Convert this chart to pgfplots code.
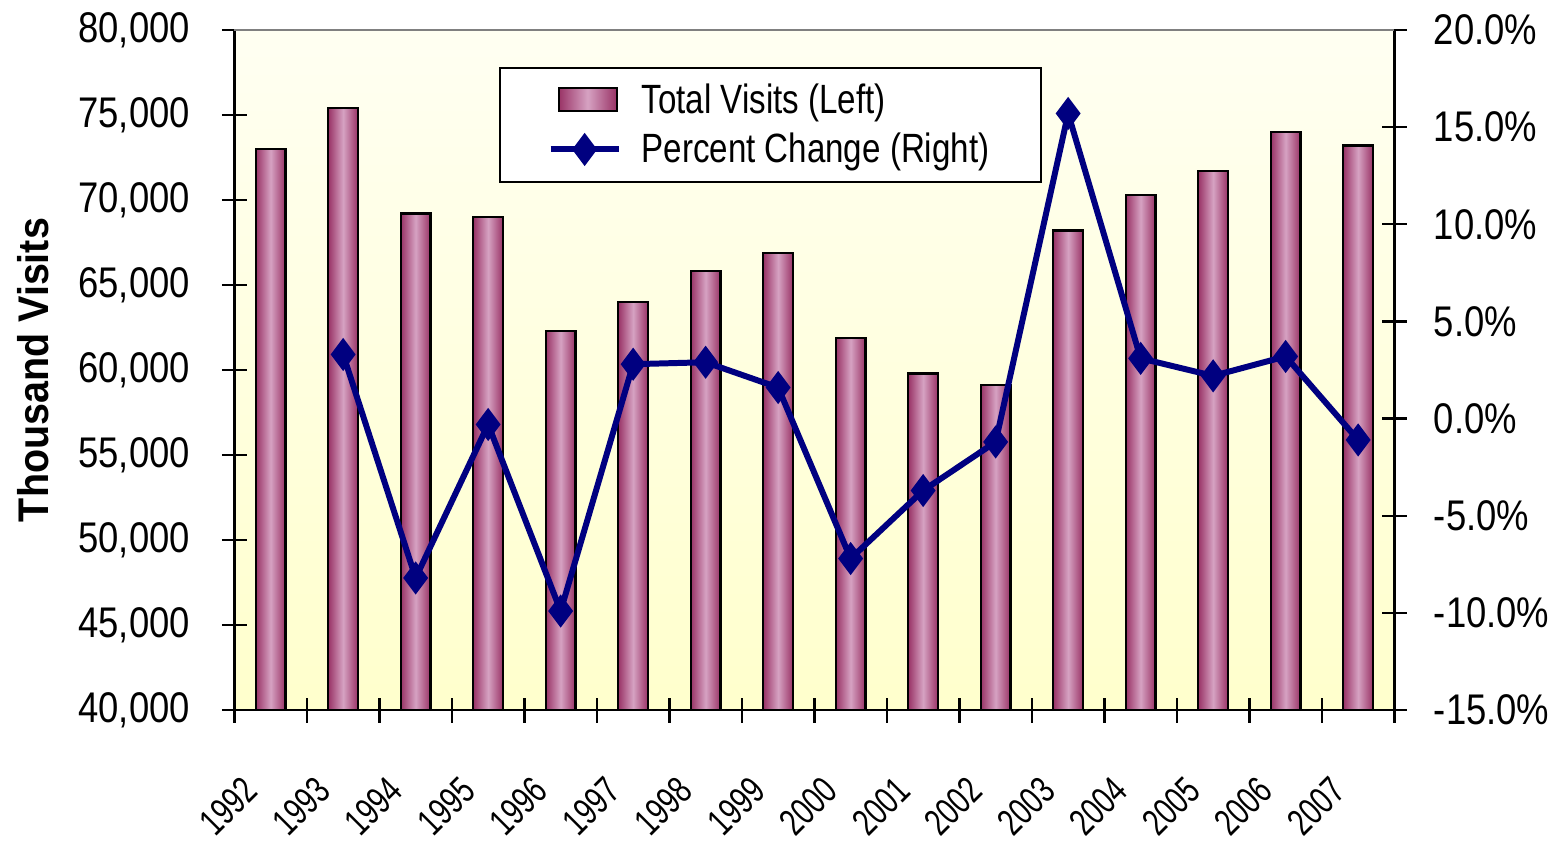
\documentclass[border=0pt]{standalone}
\usepackage{pgfplots}
\pgfplotsset{compat=1.18}
\usepackage{pgfplotstable}
\usepackage{fontspec}
\setmainfont[FakeStretch=0.85]{Liberation Sans}
\newfontfamily\legfamily[FakeStretch=0.81]{Liberation Sans}
\newfontfamily\labfamily[FakeStretch=0.92]{Liberation Sans}
\newfontfamily\xfamily[FakeStretch=0.74]{Liberation Sans}
\definecolor{barDark}{HTML}{993366}
\definecolor{barLight}{HTML}{D6A2C2}
\definecolor{bgTop}{HTML}{FFFFF2}
\definecolor{bgBot}{HTML}{FFFFCC}
\definecolor{lineBlue}{HTML}{000080}

\pgfplotstableread{
x visits
0 73000
1 75400
2 69200
3 69000
4 62300
5 64000
6 65800
7 66900
8 61900
9 59800
10 59100
11 68200
12 70300
13 71700
14 74000
15 73200
}\visits

\pgfplotstableread{
x pct
1 3.3
2 -8.2
3 -0.3
4 -9.9
5 2.8
6 2.9
7 1.6
8 -7.2
9 -3.7
10 -1.2
11 15.7
12 3.1
13 2.2
14 3.2
15 -1.1
}\pct

\newcommand{\tfont}{\fontsize{21.5}{26}\selectfont}
\newcommand{\xfont}{\xfamily\fontsize{19}{23}\selectfont}
\newcommand{\lfont}{\legfamily\fontsize{20.5}{25}\selectfont}

\pgfplotsset{
  common/.style={
    scale only axis, width=581.5pt, height=341pt,
    xmin=-0.5, xmax=15.5,
    axis line style={line width=1.2pt, black},
    major tick length=12.5pt, tick align=center,
    tick style={black, line width=1.2pt},
    tick label style={font=\tfont},
  },
  barstyle/.style={ybar, bar width=0.41, bar shift=0pt, draw=black, line width=1.1pt,
    left color=barDark, right color=barDark, middle color=barLight},
  linelegend/.style={legend image code/.code={\path (0pt,0pt) (42pt,0pt); \draw[##1] (0pt,0pt) -- (34pt,0pt); \draw[##1] plot coordinates {(17pt,0pt)};}},
  barlegend/.style={legend image code/.code={\path (0pt,0pt) (42pt,0pt); \draw[draw=black, line width=1pt, left color=barDark, right color=barDark, middle color=barLight] (4pt,-5.75pt) rectangle (33pt,5.75pt);}},
}

\begin{document}
\begin{tikzpicture}
\begin{axis}[common,
  ymin=40000, ymax=80000,
  axis y line*=left, axis x line*=bottom,
  axis background/.style={top color=bgTop, bottom color=bgBot},
  scaled y ticks=false,
  ytick={40000,45000,50000,55000,60000,65000,70000,75000,80000},
  yticklabels={{40,000},{45,000},{50,000},{55,000},{60,000},{65,000},{70,000},{75,000},{80,000}},
  yticklabel style={xshift=-12.5pt},
  xtick={-0.5,0.5,1.5,2.5,3.5,4.5,5.5,6.5,7.5,8.5,9.5,10.5,11.5,12.5,13.5,14.5,15.5},
  x tick label as interval,
  xticklabels={1992,1993,1994,1995,1996,1997,1998,1999,2000,2001,2002,2003,2004,2005,2006,2007},
  xticklabel style={font=\xfont, xshift=-7.5pt, yshift=-28.5pt, rotate=45, anchor=east},
  ylabel={Thousand Visits},
  every axis y label/.style={at={(rel axis cs:0,0.5)}, xshift=-101pt, rotate=90, anchor=center, font=\labfamily\bfseries\fontsize{21.5}{26}\selectfont},
]
\pgfplotsinvokeforeach{0,...,15}{
  \addplot[barstyle] table[x=x, y=visits, restrict x to domain=#1:#1] {\visits};
}
\coordinate (BL) at (rel axis cs:0,0);
\coordinate (TL) at (rel axis cs:0,1);
\coordinate (TR) at (rel axis cs:1,1);
\end{axis}

\begin{axis}[common,
  ymin=-15, ymax=20,
  axis y line*=right, axis x line=none,
  ytick={-15,-10,-5,0,5,10,15,20},
  yticklabels={{-15.0\%},{-10.0\%},{-5.0\%},{0.0\%},{5.0\%},{10.0\%},{15.0\%},{20.0\%}},
  yticklabel style={xshift=10pt},
  legend style={at={(0.228,0.946)}, anchor=north west, draw=black, line width=1pt,
    fill=white, font=\lfont, inner xsep=24pt, inner ysep=6pt,
    cells={anchor=west}, row sep=4.5pt},
]
\addlegendimage{barlegend}
\addplot[lineBlue, line width=3pt, mark=diamond*, mark size=7.5pt, mark options={solid, fill=lineBlue, line width=1pt}, linelegend]
  table[x=x, y=pct] {\pct};
\legend{Total Visits (Left), Percent Change (Right)}
\end{axis}
\draw[gray, line width=1pt] (TL) -- (TR);
\path (BL) ++(-117.5pt,-64pt);
\path (TR) ++(79pt,15pt);
\end{tikzpicture}
\end{document}
